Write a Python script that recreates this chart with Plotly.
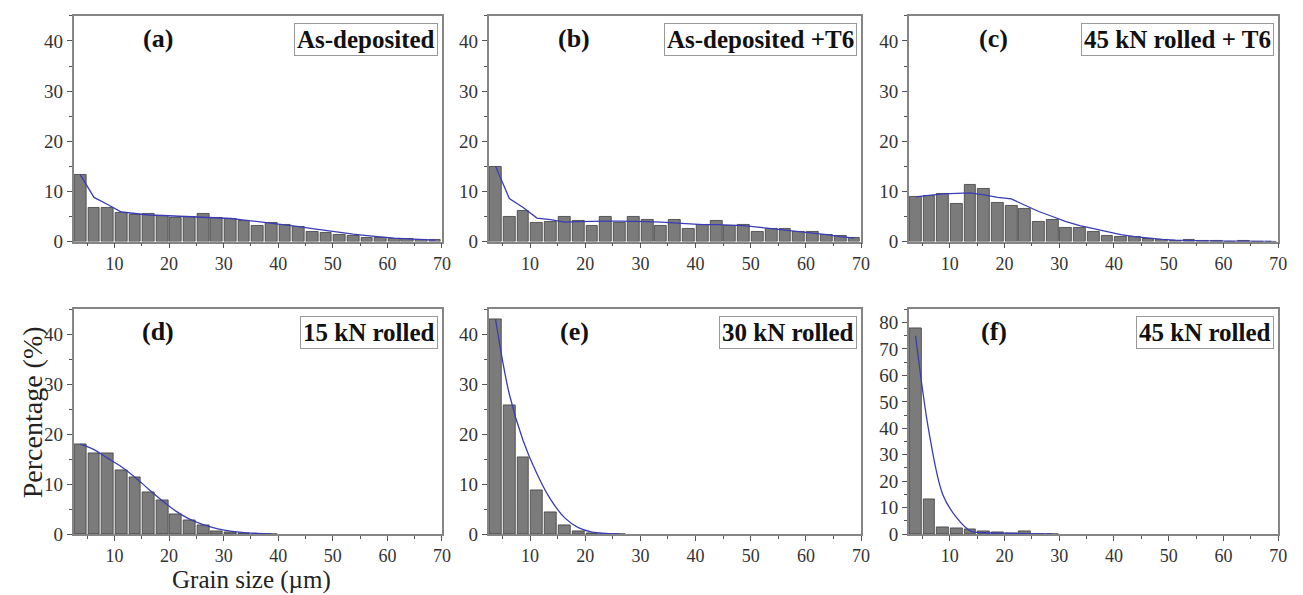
import plotly.graph_objects as go

# ---------------- data ----------------
bin_centers = [3.75 + 2.5 * i for i in range(27)]

titles = ["As-deposited", "As-deposited +T6", "45 kN rolled + T6",
          "15 kN rolled", "30 kN rolled", "45 kN rolled"]
letters = ["(a)", "(b)", "(c)", "(d)", "(e)", "(f)"]

bars_a = [13.3, 6.7, 6.8, 5.7, 5.4, 5.6, 5.1, 4.7, 5.0, 5.6, 4.7, 4.5, 4.1, 3.2,
          3.75, 3.4, 2.9, 1.85, 1.7, 1.4, 1.1, 0.8, 0.7, 0.5, 0.5, 0.3, 0.3]
line_a = [13.3, 8.8, 7.4, 5.9, 5.6, 5.3, 5.2, 5.1, 5.0, 4.9, 4.8, 4.6, 4.3, 4.0,
          3.7, 3.3, 3.0, 2.6, 2.2, 1.8, 1.5, 1.2, 0.9, 0.7, 0.55, 0.4, 0.3]

bars_b = [15.0, 5.0, 6.05, 3.75, 3.9, 4.9, 4.1, 3.1, 5.0, 3.75, 4.9, 4.3, 3.2, 4.3,
          2.6, 3.4, 4.1, 3.1, 3.3, 1.9, 2.6, 2.5, 1.9, 1.9, 1.3, 1.05, 0.8]
line_b = [15.0, 8.6, 6.8, 4.7, 4.4, 3.9, 4.0, 4.1, 4.1, 4.1, 4.1, 4.0, 3.9, 3.7,
          3.5, 3.4, 3.4, 3.3, 3.2, 2.9, 2.6, 2.4, 2.1, 1.8, 1.4, 1.0, 0.7]

bars_c = [8.9, 9.2, 9.5, 7.6, 11.4, 10.5, 7.8, 7.2, 6.6, 3.9, 4.3, 2.8, 2.7, 2.0,
          1.1, 0.85, 1.0, 0.5, 0.3, 0.2, 0.3, 0.1, 0.1, 0.05, 0.2, 0.05, 0.05]
line_c = [8.9, 9.2, 9.5, 9.6, 9.7, 9.3, 8.8, 8.5, 7.2, 6.0, 5.0, 4.0, 3.2, 2.6,
          2.0, 1.4, 1.0, 0.7, 0.45, 0.3, 0.2, 0.15, 0.1, 0.07, 0.05, 0.03, 0.02]

bars_d = [18.0, 16.2, 16.1, 12.7, 11.4, 8.4, 6.7, 4.05, 2.7, 1.7, 0.65, 0.3, 0.1,
          0.05, 0.02]
line_d = [18.0, 16.9, 15.2, 13.5, 11.4, 9.0, 6.7, 4.6, 3.0, 1.9, 1.1, 0.6, 0.3,
          0.15, 0.05]

bars_e = [43.0, 25.8, 15.3, 8.8, 4.4, 1.7, 0.6, 0.2, 0.05, 0.02]
line_e = [43.0, 28.0, 18.7, 12.1, 6.9, 3.3, 1.3, 0.4, 0.15, 0.05]

bars_f = [77.8, 13.3, 2.7, 2.0, 1.9, 1.0, 0.5, 0.3, 0.9, 0.1, 0.05]
line_f = [75.0, 38.0, 14.8, 6.2, 1.2, 0.5, 0.4, 0.3, 0.2, 0.1, 0.05]

all_bars = [bars_a, bars_b, bars_c, bars_d, bars_e, bars_f]
all_lines = [line_a, line_b, line_c, line_d, line_e, line_f]
line_shapes = ["linear", "linear", "linear", "spline", "spline", "spline"]

x_ticks = [10, 20, 30, 40, 50, 60, 70]
y_ticks_std = [0, 10, 20, 30, 40]
y_ticks_f = [0, 10, 20, 30, 40, 50, 60, 70, 80]
y_max = [45, 45, 45, 45, 45, 85]

# ---------------- layout geometry ----------------
W, H = 1303, 595
col_px = [(66, 437), (484, 859), (907, 1279)]
row_px = [(8, 238), (307, 536)]

FONT = "Liberation Serif"
BAR_COLOR = "#7b7b7b"
BAR_EDGE = "#3c3c3c"
LINE_COLOR = "#3b3bb5"
FRAME = "#858585"

fig = go.Figure()
annotations = []

for i in range(6):
    r, c = divmod(i, 3)
    ax = "" if i == 0 else str(i + 1)
    xa, ya = "x" + ax, "y" + ax
    n = len(all_bars[i])
    fig.add_trace(go.Bar(
        x=bin_centers[:n], y=all_bars[i], width=2.15,
        marker=dict(color=BAR_COLOR, line=dict(color=BAR_EDGE, width=0.8)),
        xaxis=xa, yaxis=ya, showlegend=False))
    m = len(all_lines[i])
    fig.add_trace(go.Scatter(
        x=bin_centers[:m], y=all_lines[i], mode="lines",
        line=dict(color=LINE_COLOR, width=1.3, shape=line_shapes[i]),
        xaxis=xa, yaxis=ya, showlegend=False))

    x0, x1 = col_px[c]
    y0, y1 = row_px[r]
    xdom = [x0 / W, x1 / W]
    ydom = [1 - y1 / H, 1 - y0 / H]
    yt = y_ticks_f if i == 5 else y_ticks_std
    fig.layout["xaxis" + ax] = dict(
        domain=xdom, range=[2.5, 70], anchor=ya,
        tickvals=x_ticks, ticks="outside", ticklen=5, tickwidth=1,
        tickcolor="#555", showline=True, mirror=True, linecolor=FRAME,
        linewidth=1.5, showgrid=False, zeroline=False,
        tickfont=dict(family=FONT, size=18, color="#333"),
        minor=dict(tickvals=[5, 15, 25, 35, 45, 55, 65], ticks="outside",
                   ticklen=3, tickcolor="#555"))
    fig.layout["yaxis" + ax] = dict(
        domain=ydom, range=[0, y_max[i]], anchor=xa,
        tickvals=yt, ticks="outside", ticklen=5, tickwidth=1,
        tickcolor="#555", showline=True, mirror=True, linecolor=FRAME,
        linewidth=1.5, showgrid=False, zeroline=False,
        tickfont=dict(family=FONT, size=19, color="#333"),
        minor=dict(dtick=5, ticks="outside", ticklen=3, tickcolor="#555"))

    annotations.append(dict(
        text="<b>%s</b>" % letters[i], xref=xa, yref=ya + " domain",
        x=18, y=0.9, xanchor="center", yanchor="middle", showarrow=False,
        font=dict(family=FONT, size=26, color="#111")))
    annotations.append(dict(
        text="<b>%s</b>" % titles[i], xref=xa + " domain", yref=ya + " domain",
        x=0.99, y=0.895, xanchor="right", yanchor="middle", showarrow=False,
        bgcolor="white", bordercolor="#999", borderwidth=1, borderpad=2,
        font=dict(family=FONT, size=25, color="#111")))

annotations.append(dict(
    text="Percentage (%)", xref="paper", yref="paper", x=25 / W,
    y=1 - 412 / H, textangle=-90, xanchor="center", yanchor="middle",
    showarrow=False, font=dict(family=FONT, size=28, color="#222")))
annotations.append(dict(
    text="Grain size (\u00b5m)", xref="paper", yref="paper", x=245 / W,
    y=1 - 583 / H, xanchor="center", yanchor="middle",
    showarrow=False, font=dict(family=FONT, size=25, color="#222")))

fig.update_layout(
    width=W, height=H, margin=dict(l=0, r=0, t=0, b=0),
    plot_bgcolor="white", paper_bgcolor="white", bargap=0,
    annotations=annotations)

fig.write_html("out.html")
